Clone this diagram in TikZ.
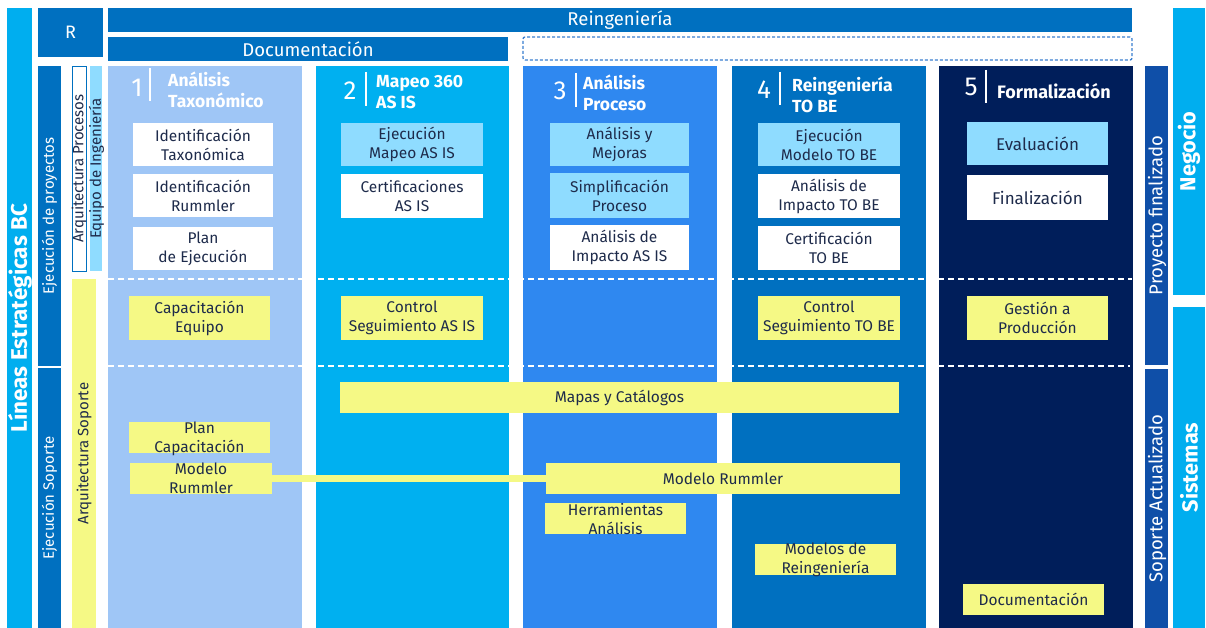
\documentclass[tikz,border=0pt]{standalone}
\usepackage{fontspec}
\setmainfont{Fira Sans}
\definecolor{cyanbar}{HTML}{00AEEF}
\definecolor{dblue}{HTML}{0070C0}
\definecolor{colA}{HTML}{9FC6F6}
\definecolor{colB}{HTML}{00B0F0}
\definecolor{colC}{HTML}{2F88F0}
\definecolor{colD}{HTML}{0070C0}
\definecolor{colE}{HTML}{001E5A}
\definecolor{pfin}{HTML}{0F4FA8}
\definecolor{lcyan}{HTML}{8FDCFF}
\definecolor{yel}{HTML}{F5F985}
\definecolor{txt}{HTML}{1E2B4B}
\definecolor{dashblue}{HTML}{3A7FD0}
\begin{document}
\begin{tikzpicture}[x=1pt,y=-1pt,
  blk/.style={inner sep=0pt, outer sep=0pt, draw=none},
  colbox/.style={blk, anchor=north west, minimum width=194pt, minimum height=562pt},
  box/.style={blk, align=center, font=\fontsize{15.5}{19}\selectfont, text=txt},
  wbox/.style={box, fill=white},
  cbox/.style={box, fill=lcyan},
  ybox/.style={box, fill=yel},
  vtxt/.style={rotate=90, inner sep=0pt, font=\fontsize{15}{17}\selectfont},
  vbig/.style={rotate=90, inner sep=0pt, text=white, font=\bfseries\fontsize{21.7}{23}\selectfont},
  num/.style={inner sep=0pt, text=white, font=\fontsize{26}{26}\selectfont},
  ttl/.style={inner sep=0pt, anchor=west, align=left, text=white, font=\bfseries\fontsize{17.5}{21}\selectfont},
  sep/.style={draw=white, line width=1.6pt},
  dline/.style={draw=white, line width=1.2pt, dash pattern=on 6pt off 4pt}
]
\useasboundingbox (0,0) rectangle (1206,628);
\fill[white] (0,0) rectangle (1206,628);

% left side bars
\node[blk, fill=cyanbar, anchor=north west, minimum width=25pt, minimum height=620pt] (lineas) at (7,8) {};
\node[vbig, font=\bfseries\fontsize{22.5}{24}\selectfont] (lineasT) at ([xshift=0.5pt]lineas.center) {Líneas Estratégicas BC};
\node[blk, fill=dblue, anchor=north west, minimum width=65pt, minimum height=49pt, text=white, font=\fontsize{18}{20}\selectfont] (R) at (38,8) {R};
\node[blk, fill=dblue, anchor=north west, minimum width=23pt, minimum height=300pt] (ejp) at (38,66) {};
\node[vtxt, text=white] (ejpT) at (ejp.center) {Ejecución de proyectos};
\node[blk, fill=dblue, anchor=north west, minimum width=23pt, minimum height=260pt] (ejs) at (38,368) {};
\node[vtxt, text=white] (ejsT) at (ejs.center) {Ejecución Soporte};
\node[blk, fill=white, draw=dblue, line width=0.8pt, anchor=north west, minimum width=14pt, minimum height=205pt] (arqp) at (72,66) {};
\node[vtxt, text=txt] (arqpT) at (arqp.center) {Arquitectura Procesos};
\node[blk, fill=lcyan, anchor=north west, minimum width=12pt, minimum height=205pt] (eqi) at (90,66) {};
\node[vtxt, text=txt] (eqiT) at ([xshift=0.5pt]eqi.center) {Equipo de Ingeniería};
\node[blk, fill=yel, anchor=north west, minimum width=24pt, minimum height=349pt] (arqs) at (72,279) {};
\node[vtxt, text=txt] (arqsT) at (arqs.center) {Arquitectura Soporte};

% top bars
\node[blk, fill=dblue, anchor=north west, minimum width=1024pt, minimum height=24pt, text=white, font=\fontsize{18.5}{20}\selectfont] (reing) at (108,8) {Reingeniería};
\node[blk, fill=dblue, anchor=north west, minimum width=400pt, minimum height=24pt, text=white, font=\fontsize{18.5}{20}\selectfont] (docu) at (108,37) {Documentación};
\node[blk, fill=white, draw=dashblue, line width=1.3pt, dash pattern=on 3pt off 2pt, rounded corners=2pt, anchor=north west, minimum width=609pt, minimum height=23pt] (dbox) at (523,37) {};

% right side bars
\node[blk, fill=pfin, anchor=north west, minimum width=23pt, minimum height=299pt] (pf) at (1145,66) {};
\node[vtxt, text=white, font=\fontsize{18.5}{20}\selectfont] (pfT) at ([xshift=0.5pt]pf.center) {Proyecto finalizado};
\node[blk, fill=pfin, anchor=north west, minimum width=23pt, minimum height=259pt] (sa) at (1145,369) {};
\node[vtxt, text=white, font=\fontsize{18.5}{20}\selectfont] (saT) at ([xshift=0.5pt]sa.center) {Soporte Actualizado};
\node[blk, fill=cyanbar, anchor=north west, minimum width=32pt, minimum height=287pt] (neg) at (1173,8) {};
\node[vbig] (negT) at (neg.center) {Negocio};
\node[blk, fill=cyanbar, anchor=north west, minimum width=32pt, minimum height=321pt] (sis) at (1173,307) {};
\node[vbig] (sisT) at (sis.center) {Sistemas};

% columns
\node[colbox, fill=colA] (c1) at (108,66) {};
\node[colbox, fill=colB, minimum width=193pt] (c2) at (316,66) {};
\node[colbox, fill=colC] (c3) at (523,66) {};
\node[colbox, fill=colD] (c4) at (732,66) {};
\node[colbox, fill=colE] (c5) at (939,66) {};

% dashed separators
\coordinate (d1a) at (108,279); \coordinate (d1b) at (1132,279);
\coordinate (d2a) at (108,366); \coordinate (d2b) at (1130,366);
\draw[dline] (d1a) -- (d1b);
\draw[dline] (d2a) -- (d2b);

% headers
\node[num] (n1) at (137,88) {1};
\draw[sep] (150,68) -- (150,101);
\node[ttl] (t1) at (168,89.5) {Análisis\\Taxonómico};
\node[num] (n2) at (350,91) {2};
\draw[sep] (366,72) -- (366,106);
\node[ttl] (t2) at (376,92.5) {Mapeo 360\\AS IS};
\node[num] (n3) at (560,91) {3};
\draw[sep] (576,73) -- (576,107);
\node[ttl] (t3) at (583,92.5) {Análisis\\Proceso};
\node[num] (n4) at (764,90) {4};
\draw[sep] (780,72) -- (780,105);
\node[ttl] (t4) at (792,94.5) {Reingeniería\\TO BE};
\node[num] (n5) at (971,87) {5};
\draw[sep] (986,70) -- (986,103);
\node[ttl, font=\bfseries\fontsize{18}{21}\selectfont] (t5) at (997,91) {Formalización};

% column 1 boxes
\node[wbox, minimum width=140pt, minimum height=43pt] (b11) at (203,144.5) {Identificación\\Taxonómica};
\node[wbox, minimum width=140pt, minimum height=43pt] (b12) at (203,196) {Identificación\\Rummler};
\node[wbox, minimum width=140pt, minimum height=43pt] (b13) at (203,248.5) {Plan\\de Ejecución};
% column 2
\node[cbox, minimum width=142pt, minimum height=43pt] (b21) at (412,144.5) {Ejecución\\Mapeo AS IS};
\node[wbox, minimum width=142pt, minimum height=44pt] (b22) at (412,196) {Certificaciones\\AS IS};
% column 3
\node[cbox, minimum width=139pt, minimum height=43pt] (b31) at (619.5,144.5) {Análisis y\\Mejoras};
\node[cbox, minimum width=139pt, minimum height=45pt] (b32) at (619.5,195.5) {Simplificación\\Proceso};
\node[wbox, minimum width=139pt, minimum height=45pt] (b33) at (619.5,247.5) {Análisis de\\Impacto AS IS};
% column 4
\node[cbox, minimum width=142pt, minimum height=43pt] (b41) at (829,144.5) {Ejecución\\Modelo TO BE};
\node[wbox, minimum width=142pt, minimum height=44pt] (b42) at (829,196) {Análisis de\\Impacto TO BE};
\node[wbox, minimum width=142pt, minimum height=44pt] (b43) at (829,248) {Certificación\\TO BE};
% column 5
\node[cbox, minimum width=141pt, minimum height=43pt, font=\fontsize{17}{19}\selectfont] (b51) at (1037.5,143.5) {Evaluación};
\node[wbox, minimum width=141pt, minimum height=45pt, font=\fontsize{17}{19}\selectfont] (b52) at (1037.5,197.5) {Finalización};

% middle yellow row
\node[ybox, minimum width=141pt, minimum height=44pt] (y1) at (199.5,318) {Capacitación\\Equipo};
\node[ybox, minimum width=142pt, minimum height=44pt] (y2) at (412,318) {Control\\Seguimiento AS IS};
\node[ybox, minimum width=142pt, minimum height=44pt] (y4) at (829,318) {Control\\Seguimiento TO BE};
\node[ybox, minimum width=141pt, minimum height=44pt] (y5) at (1037.5,318) {Gestión a\\Producción};

% lower yellow boxes
\node[ybox, minimum width=559pt, minimum height=31pt] (mapas) at (619.5,397.5) {Mapas y Catálogos};
\node[ybox, minimum width=141pt, minimum height=31pt] (plancap) at (199.5,437.5) {};
\node[box] (plancapT) at (199.5,438.5) {Plan\\Capacitación};
\node[ybox, minimum width=142pt, minimum height=31pt] (mr1) at (201,478.5) {};
\node[ybox, minimum width=354pt, minimum height=31pt] (mr2) at (723,478.5) {Modelo Rummler};
\draw[yel, line width=7pt] (mr1.east) -- (mr2.west);
\node[box] (mr1T) at (201,478.5) {Modelo\\Rummler};
\node[ybox, minimum width=141pt, minimum height=31pt] (herr) at (615.5,518.5) {};
\node[box] (herrT) at (615.5,519.5) {Herramientas\\Análisis};
\node[ybox, minimum width=141pt, minimum height=31pt] (modr) at (825.5,559.5) {};
\node[box] (modrT) at (825.5,559.5) {Modelos de\\Reingeniería};
\node[ybox, minimum width=141pt, minimum height=31pt] (doc5) at (1033.5,599.5) {Documentación};
\end{tikzpicture}
\end{document}
